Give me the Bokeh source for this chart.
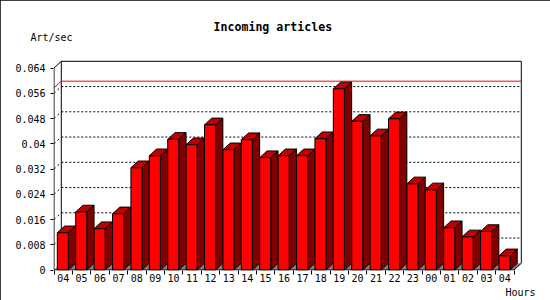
from bokeh.plotting import figure
from bokeh.models import FixedTicker, Title, Range1d
from bokeh.embed import file_html
from bokeh.resources import INLINE

# ---------------- data ----------------
hours = ["04", "05", "06", "07", "08", "09", "10", "11", "12", "13", "14", "15",
         "16", "17", "18", "19", "20", "21", "22", "23", "00", "01", "02", "03", "04"]
art_per_sec = [0.0118, 0.0184, 0.0131, 0.0178, 0.0324, 0.0362, 0.0414, 0.0397,
               0.0460, 0.0381, 0.0413, 0.0356, 0.0362, 0.0362, 0.0416, 0.0574,
               0.0471, 0.0425, 0.0479, 0.0273, 0.0254, 0.0134, 0.0105, 0.0122,
               0.0045]
max_rate = 0.0577
y_ticks = [0, 0.008, 0.016, 0.024, 0.032, 0.04, 0.048, 0.056, 0.064]
y_tick_labels = ["0", "0.008", "0.016", "0.024", "0.032", "0.04", "0.048", "0.056", "0.064"]
title_text = "Incoming articles"
y_unit = "Art/sec"
x_unit = "Hours"

# ---------------- geometry (pixels) ----------------
W, H = 550, 300
BL, BR, BT, BB = 53, 27, 58, 30
frame_w = W - BL - BR
frame_h = H - BT - BB
px_per_cat = 18.4
px_per_unit = 25.25 / 0.008
n = len(hours)
y_top = y_ticks[-1]

x0 = -0.5 / px_per_cat
y0 = -0.5 / px_per_unit
DX = 7.3 / px_per_cat
DY = 6.7 / px_per_unit

p = figure(width=W, height=H, output_backend="svg", toolbar_location=None,
           x_range=Range1d(x0, x0 + frame_w / px_per_cat),
           y_range=Range1d(y0, y0 + frame_h / px_per_unit),
           min_border_left=BL, min_border_right=BR, min_border_top=BT, min_border_bottom=BB,
           background_fill_color="white", border_fill_color="white")
p.outline_line_color = None
p.xgrid.grid_line_color = None
p.ygrid.grid_line_color = None
p.styles = {"outline": "2px solid black", "outline-offset": "-2px"}

# ---------------- floor ----------------
p.patch([0, n, n + DX, DX], [0, 0, DY, DY], fill_color="#808080", line_color=None)

# ---------------- back wall ----------------
grid_levels = y_ticks[1:-1]
p.segment(x0=[DX] * len(grid_levels), y0=[v + DY for v in grid_levels],
          x1=[n + DX] * len(grid_levels), y1=[v + DY for v in grid_levels],
          line_color="black", line_width=1, line_dash="2 2")
p.segment(x0=[0] * len(grid_levels), y0=grid_levels,
          x1=[DX] * len(grid_levels), y1=[v + DY for v in grid_levels],
          line_color="black", line_width=1, line_dash="2 3")
p.line([DX, DX, n + DX, n + DX], [DY, y_top + DY, y_top + DY, DY], line_color="black", line_width=1)
p.line([0, DX, n + DX], [max_rate, max_rate + DY, max_rate + DY], line_color="red", line_width=1)

# ---------------- bars ----------------
lefts = [i + 0.18 for i in range(n)]
rights = [i + 0.78 for i in range(n)]
top_xs, top_ys, side_xs, side_ys = [], [], [], []
for l, r, v in zip(lefts, rights, art_per_sec):
    top_xs.append([l, r, r + DX, l + DX])
    top_ys.append([v, v, v + DY, v + DY])
    side_xs.append([r, r + DX, r + DX, r])
    side_ys.append([0, DY, v + DY, v])
p.patches(side_xs, side_ys, fill_color="#800000", line_color="black", line_width=1)
p.patches(top_xs, top_ys, fill_color="#c00000", line_color="black", line_width=1)
p.quad(left=lefts, right=rights, bottom=0, top=art_per_sec,
       fill_color="#ff0000", line_color="black", line_width=1)

# ---------------- front axes ----------------
p.line([DX, 0, 0, n, n + DX], [y_top + DY, y_top, 0, 0, DY], line_color="black", line_width=1)

# ---------------- axes ----------------
centers = [i + 0.5 for i in range(n)]
bounds = [i for i in range(n + 1)]
p.xaxis.ticker = FixedTicker(ticks=centers, minor_ticks=bounds)
p.xaxis.major_label_overrides = {c: h for c, h in zip(centers, hours)}
p.xaxis.axis_line_color = None
p.xaxis.major_tick_out = 0
p.xaxis.major_tick_in = 0
p.xaxis.minor_tick_out = 4
p.xaxis.minor_tick_in = 0
p.xaxis.minor_tick_line_color = "black"
p.xaxis.major_label_standoff = -1

p.yaxis.ticker = FixedTicker(ticks=y_ticks, minor_ticks=[])
p.yaxis.major_label_overrides = {t: s for t, s in zip(y_ticks, y_tick_labels)}
p.yaxis.axis_line_color = None
p.yaxis.major_tick_out = 3
p.yaxis.major_tick_in = 0
p.yaxis.minor_tick_out = 0
p.yaxis.minor_tick_in = 0
p.yaxis.major_label_standoff = 5

for ax in (p.xaxis, p.yaxis):
    ax.major_label_text_font = "DejaVu Sans Mono"
    ax.major_label_text_font_size = "10px"
    ax.major_label_text_color = "black"
    ax.major_tick_line_color = "black"

# ---------------- texts ----------------
p.add_layout(Title(text=y_unit, align="left", offset=-23, standoff=31,
                   text_font="DejaVu Sans Mono", text_font_size="10px",
                   text_font_style="normal", text_color="black"), "above")
p.add_layout(Title(text=title_text, align="left", offset=160, standoff=-39,
                   text_font="DejaVu Sans Mono", text_font_size="11.6px",
                   text_font_style="bold", text_color="black"), "above")
p.add_layout(Title(text=x_unit, align="left", offset=452, standoff=0,
                   text_font="DejaVu Sans Mono", text_font_size="10px",
                   text_font_style="normal", text_color="black"), "below")

open("out.html", "w").write(file_html(p, INLINE))
